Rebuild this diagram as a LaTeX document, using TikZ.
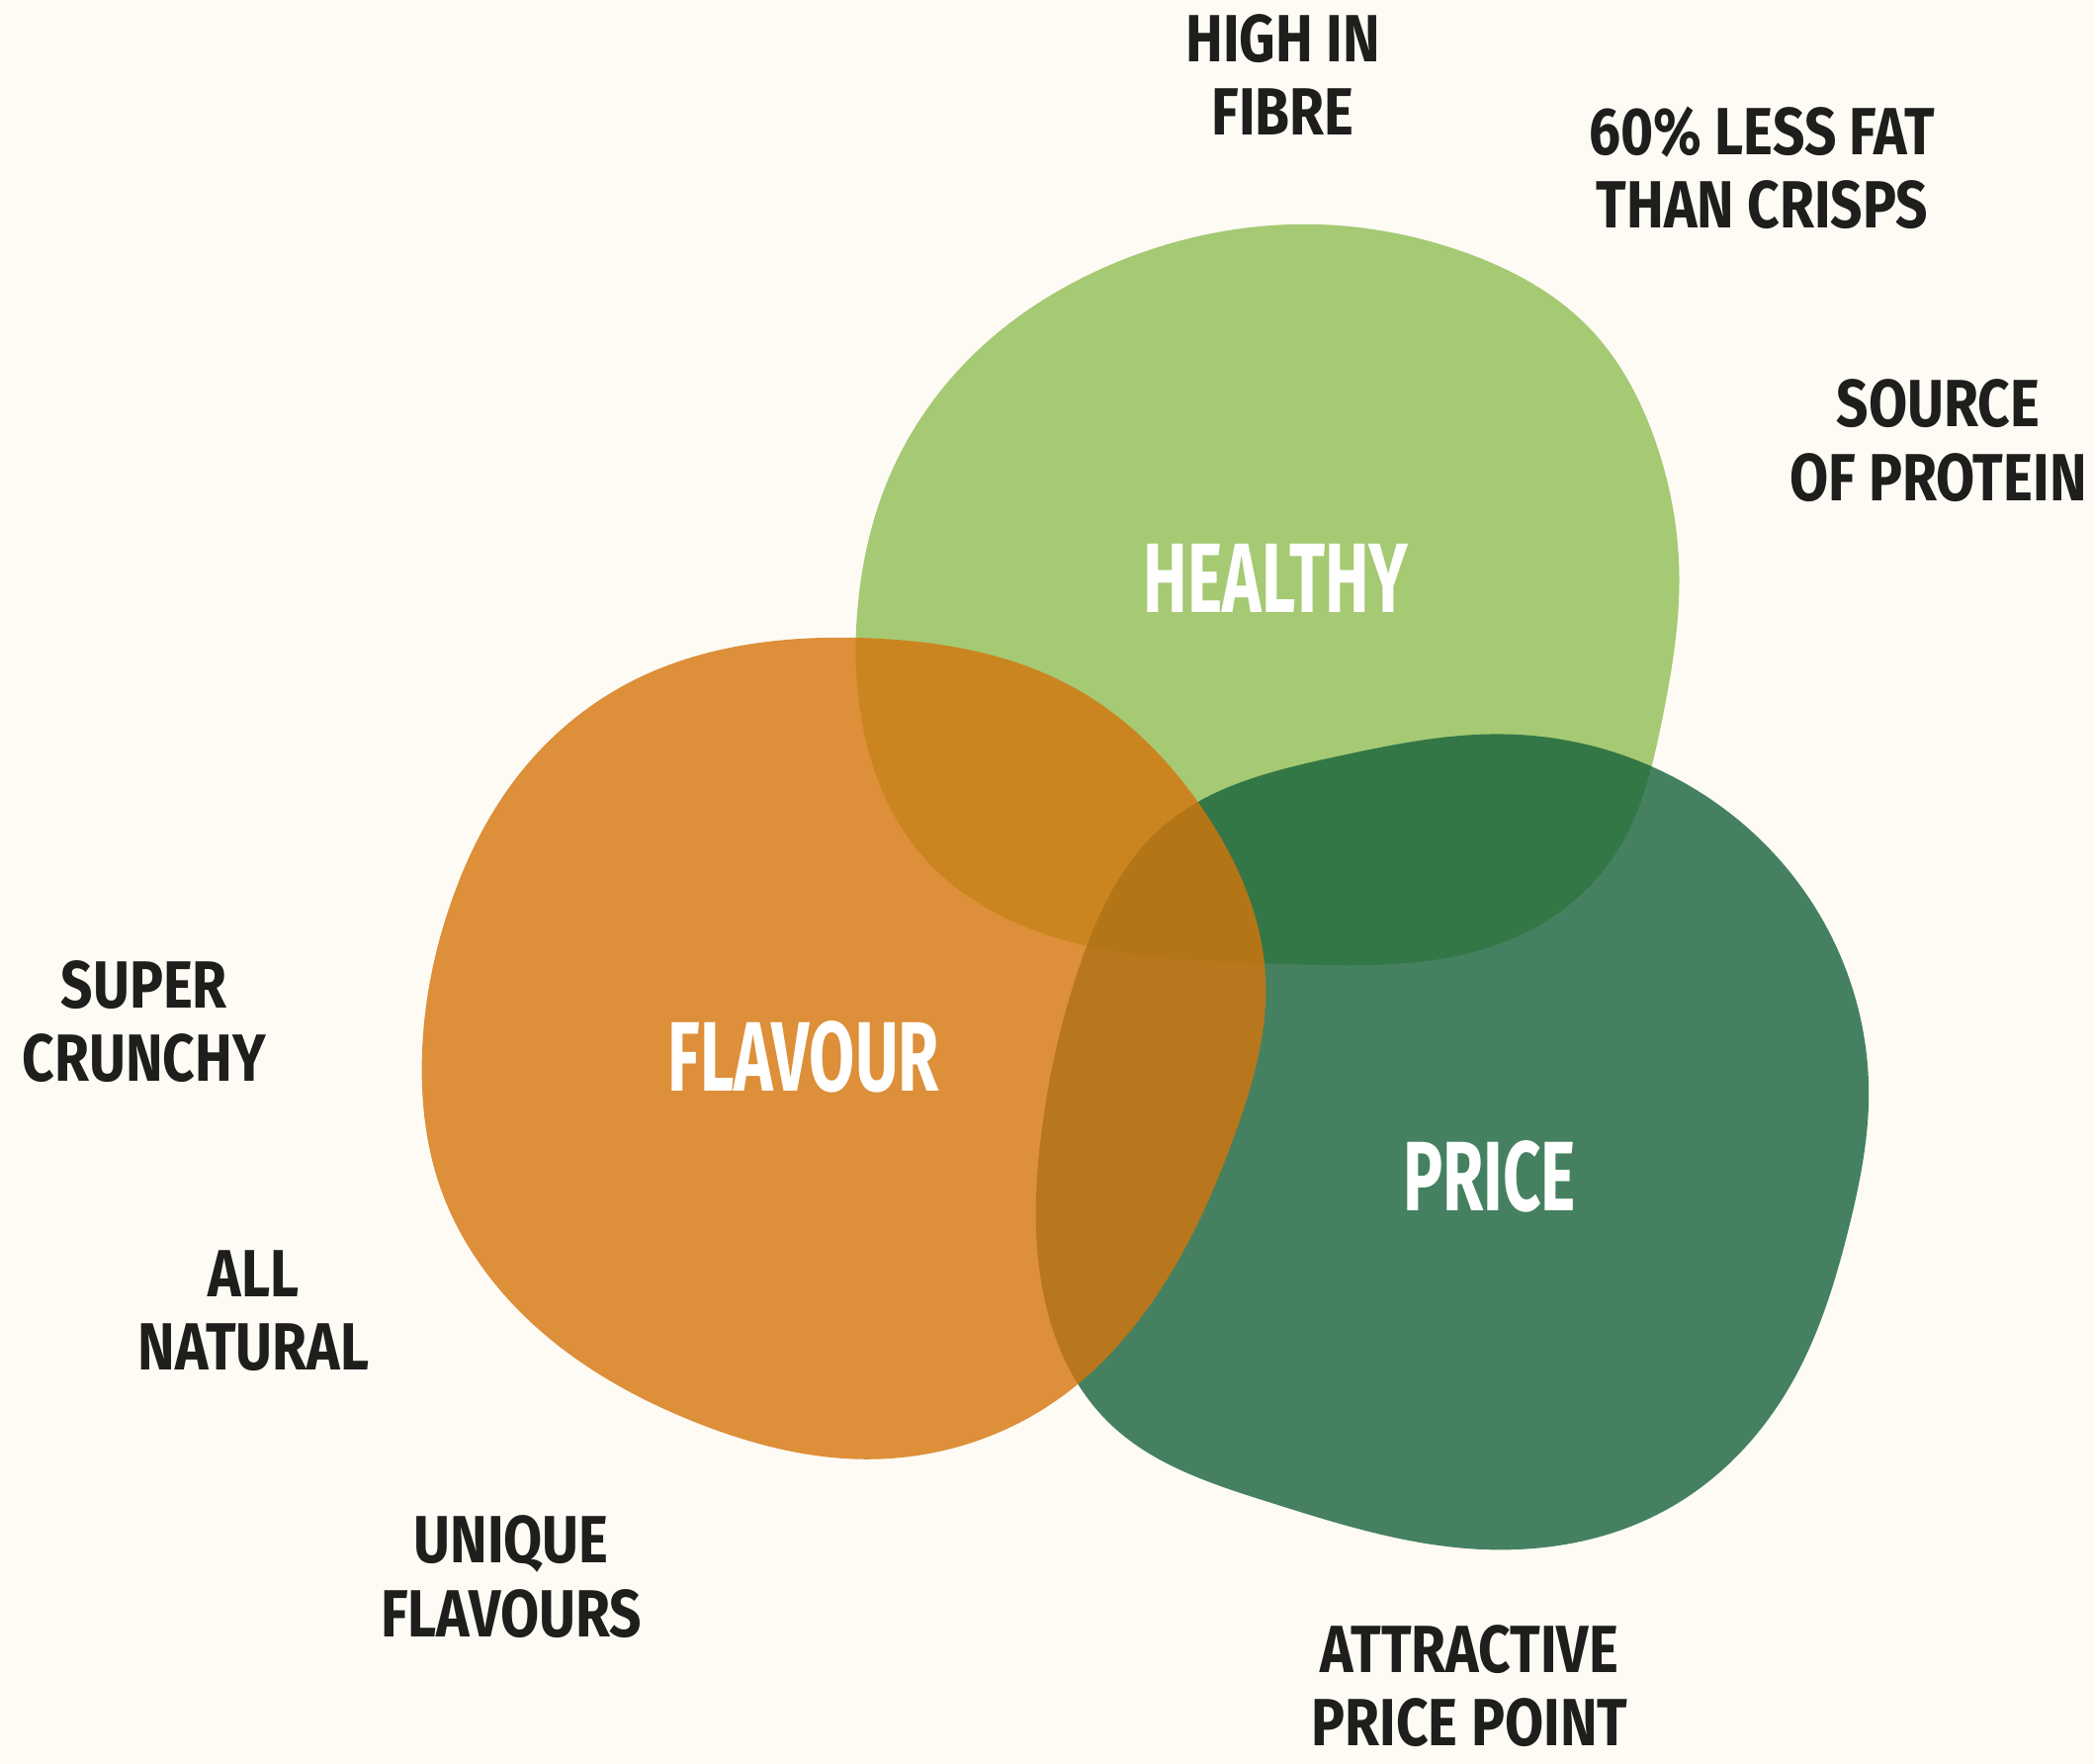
\documentclass[tikz,border=0pt]{standalone}
\usepackage{fontspec}
\usetikzlibrary{hobby}
\setmainfont{Fira Sans}[FakeStretch=0.84]
\newfontfamily\bigfont{Fira Sans}[FakeStretch=0.67]
\definecolor{bg}{RGB}{254,251,245}
\definecolor{healthyc}{RGB}{166,201,116}
\definecolor{pricec}{RGB}{23,99,59}
\definecolor{flavourc}{RGB}{213,117,11}
\definecolor{ink}{RGB}{30,30,28}
\begin{document}
\begin{tikzpicture}[x=1pt,y=-1pt,
  lbl/.style={font=\fontsize{50}{55}\selectfont\bfseries, text=ink, align=center, inner sep=0pt},
  big/.style={font=\bigfont\fontsize{74}{80}\selectfont\bfseries, text=white, align=center, inner sep=0pt}]
\fill[bg] (0,0) rectangle (1568,1321);
\useasboundingbox (0,0) rectangle (1568,1321);
% Healthy
\fill[healthyc] plot[closed hobby] coordinates {
 (975,168) (1100,190) (1190,245) (1240,330) (1258,430) (1245,540) (1210,640)
 (1140,700) (960,722) (800,705) (690,640) (650,560) (643,450)
 (665,360) (720,275) (840,195)};
% Price
\fill[pricec, fill opacity=0.8] plot[closed hobby] coordinates {
 (1130,550) (1268,590) (1360,680) (1400,820) (1385,920) (1340,1040)
 (1250,1130) (1100,1160) (950,1125) (830,1065) (780,960) (780,850)
 (810,720) (870,620) (1000,567)};
% Flavour
\fill[flavourc, fill opacity=0.8] plot[closed hobby] coordinates {
 (650,478) (808,517) (905,612) (948,730) (925,850) (870,965)
 (790,1050) (655,1093) (520,1065) (392,985) (330,890) (316,800)
 (340,670) (385,585) (470,512)};
% Centre labels
\node[big] (healthy) at (956,433) {HEALTHY};
\node[big] (flavour) at (602,792) {FLAVOUR};
\node[big] (price) at (1116,881) {PRICE};
% Outer labels
\node[lbl] (fibre) at (961,56) {HIGH IN\\FIBRE};
\node[lbl] (fat) at (1320,126) {60\% LESS FAT\\THAN CRISPS};
\node[lbl] (protein) at (1452,330) {SOURCE\\OF PROTEIN};
\node[lbl] (crunchy) at (108,765) {SUPER\\CRUNCHY};
\node[lbl] (natural) at (190,982) {ALL\\NATURAL};
\node[lbl] (unique) at (383,1181) {UNIQUE\\FLAVOURS};
\node[lbl] (attractive) at (1101,1263) {ATTRACTIVE\\PRICE POINT};
\end{tikzpicture}
\end{document}
